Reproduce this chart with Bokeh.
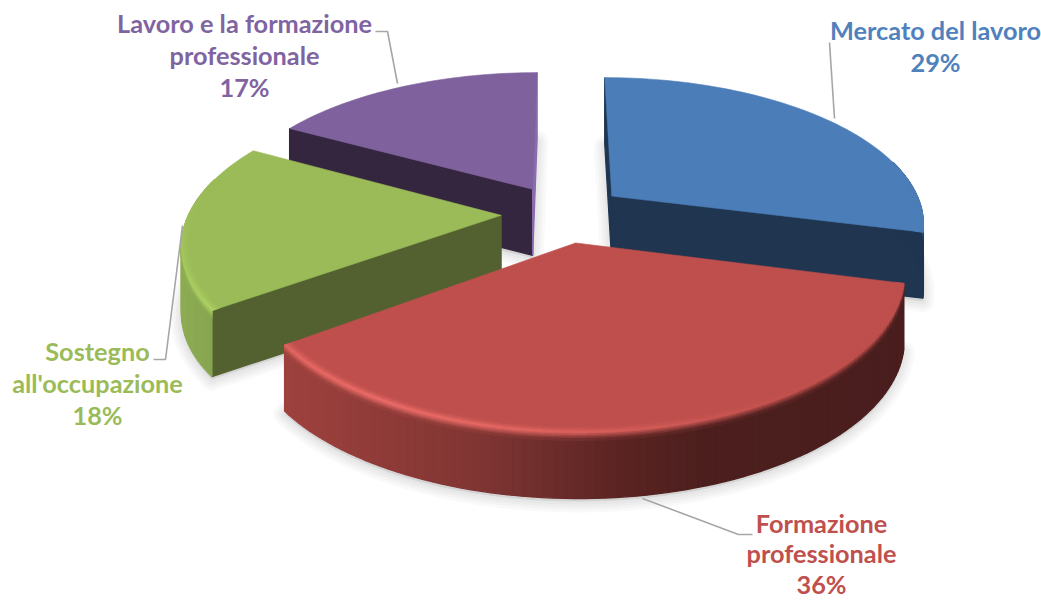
import numpy as np
from bokeh.embed import file_html
from bokeh.models import ColumnDataSource, Range1d
from bokeh.plotting import figure
from bokeh.resources import INLINE
from bokeh.core.properties import value

# ---- data ----
categories = ["Mercato del lavoro", "Formazione professionale",
              "Sostegno all'occupazione", "Lavoro e la formazione professionale"]
shares = [29, 36, 18, 17]
label_lines = [["Mercato del lavoro"], ["Formazione", "professionale"],
               ["Sostegno", "all'occupazione"], ["Lavoro e la formazione", "professionale"]]

# ---- style ----
label_colors = ["#4F81BD", "#C0504D", "#9BBB59", "#8064A2"]
top_colors = ["#4B7DB8", "#BE4F4C", "#9BBA58", "#7F619E"]
rim_colors = ["#5F93D4", "#F2706C", "#B6DE68", "#9778BC"]
wall_stops = [[(0, "#1F3550"), (1100, "#1F3550")],
              [(285, "#9E413E"), (480, "#7F3533"), (620, "#5A2422"), (700, "#4C1F1E"), (900, "#4A1E1E")],
              [(180, "#8DAC53"), (260, "#7E9A49")],
              [(0, "#35263F"), (1100, "#35263F")]]
cut_start_colors = ["#1F3550", None, "#536130", "#35263F"]
cut_end_colors = ["#1F3550", None, None, "#8A6CAE"]
label_pos = [(935, 29), (821, 522), (97, 350), (244, 22)]
line_gaps = [32.0, 30.5, 32.0, 32.0]
leaders = [([829, 834], [42, 118]),
           ([752, 738, 642], [534, 534, 498]),
           ([153, 165, 182], [359, 359, 225]),
           ([375, 387, 397], [31, 31, 83])]

# ---- projection ----
CX, CY = 563.0, 213.0
A, B, K = 312.0, 144.8, 0.1747
DEPTH = 66.0
EXPLODE = 0.2


def hex2rgb(c):
    return np.array([int(c[i:i + 2], 16) for i in (1, 3, 5)], float)


def rgb2hex(v):
    return "#%02X%02X%02X" % tuple(int(round(min(255, max(0, x)))) for x in v)


def mix(a, b, t):
    return rgb2hex(hex2rgb(a) * (1 - t) + hex2rgb(b) * t)


def project(X, Y, z=0.0):
    w = 1 + K * Y
    return CX + A * X / w, CY - B * Y / w + z


def wall_color(stops, x):
    xs = [s[0] for s in stops]
    rgb = np.array([hex2rgb(s[1]) for s in stops])
    return rgb2hex([np.interp(x, xs, rgb[:, i]) for i in range(3)])


total = sum(shares)
starts = np.cumsum([0] + shares[:-1]) / total * 2 * np.pi
ends = np.cumsum(shares) / total * 2 * np.pi

p = figure(width=1041, height=600, output_backend="svg", toolbar_location=None,
           x_range=Range1d(0, 1041), y_range=Range1d(600, 0), min_border=0,
           background_fill_color="white", border_fill_color="white", outline_line_color=None)
p.axis.visible = False
p.grid.visible = False

shapes = []
for i in range(len(shares)):
    mid = (starts[i] + ends[i]) / 2
    ox, oy = EXPLODE * np.sin(mid), EXPLODE * np.cos(mid)
    th = np.linspace(starts[i], ends[i], max(8, int(np.degrees(ends[i] - starts[i]) / 1.5)))
    shapes.append((ox, oy, th))


def ring(ox, oy, th, r=1.0, z=0.0):
    return project(ox + r * np.sin(th), oy + r * np.cos(th), z)


def rim_tone(i, m):
    s = max(0.0, -0.5 * np.sin(m) - 0.85 * np.cos(m)) ** 3
    return mix(top_colors[i], rim_colors[i], s)


# soft shadows under the base of every slice
for i, (ox, oy, th) in enumerate(shapes):
    rx, ry = ring(ox, oy, th, 1.0, DEPTH + 3)
    ax, ay = project(ox, oy, DEPTH + 3)
    xs = list(rx) + [ax]
    ys = list(ry) + [ay]
    for w in (22, 16, 11, 6):
        p.patch(xs, ys, fill_color="#808080", fill_alpha=0.05, line_color="#808080",
                line_alpha=0.05, line_width=w, line_join="round")

# draw back to front
for i in [3, 0, 2, 1]:
    ox, oy, th = shapes[i]
    ax, ay = project(ox, oy)
    qx, qy, qc = [], [], []

    # cut faces
    for ang, col in ((starts[i], cut_start_colors[i]), (ends[i], cut_end_colors[i])):
        if col:
            ex, ey = ring(ox, oy, np.array([ang]))
            qx.append([ax, ex[0], ex[0], ax])
            qy.append([ay, ey[0], ey[0] + DEPTH, ay + DEPTH])
            qc.append(col)

    # outer wall
    segs = [(a, b) for a, b in zip(th[:-1], th[1:]) if np.cos((a + b) / 2) <= 0.25]
    for a, b in segs:
        x0, y0 = ring(ox, oy, np.array([a, b]))
        qx.append([x0[0], x0[1], x0[1], x0[0]])
        qy.append([y0[0], y0[1], y0[1] + DEPTH, y0[0] + DEPTH])
        qc.append(wall_color(wall_stops[i], (x0[0] + x0[1]) / 2))
    p.patches("x", "y", source=ColumnDataSource(dict(x=qx, y=qy, c=qc)),
              fill_color="c", line_color="c", line_width=1.3)

    # bevel on the wall's upper edge
    bevel = [0, 1.5, 3, 4.5, 6, 8]
    qx, qy, qc = [], [], []
    for a, b in segs:
        rim = rim_tone(i, (a + b) / 2)
        x0, y0 = ring(ox, oy, np.array([a, b]))
        wc = wall_color(wall_stops[i], (x0[0] + x0[1]) / 2)
        for k in range(len(bevel) - 1):
            qx.append([x0[0], x0[1], x0[1], x0[0]])
            qy.append([y0[0] + bevel[k], y0[1] + bevel[k], y0[1] + bevel[k + 1], y0[0] + bevel[k + 1]])
            qc.append(mix(rim, wc, (k + 0.5) / (len(bevel) - 1)))
    p.patches("x", "y", source=ColumnDataSource(dict(x=qx, y=qy, c=qc)),
              fill_color="c", line_color="c", line_width=1.0)

    # top face
    rx, ry = ring(ox, oy, th)
    p.patch(list(rx) + [ax], list(ry) + [ay], fill_color=top_colors[i], line_color=top_colors[i], line_width=0.6)

    # inner edge of the bevel, on the top face
    tx, ty, tc = [], [], []
    rs = [0.975, 0.983, 0.99, 0.995, 1.0]
    for a, b in segs:
        rim = rim_tone(i, (a + b) / 2)
        for k in range(len(rs) - 1):
            xa, ya = ring(ox, oy, np.array([a, b]), rs[k])
            xb, yb = ring(ox, oy, np.array([a, b]), rs[k + 1])
            tx.append([xa[0], xa[1], xb[1], xb[0]])
            ty.append([ya[0], ya[1], yb[1], yb[0]])
            tc.append(mix(top_colors[i], rim, (k + 0.5) / (len(rs) - 1)))
    if tx:
        p.patches("x", "y", source=ColumnDataSource(dict(x=tx, y=ty, c=tc)),
                  fill_color="c", line_color="c", line_width=0.8)

# leader lines
for lx, ly in leaders:
    p.line(lx, ly, line_color="#A6A6A6", line_width=1.6)

# labels
for i in range(len(shares)):
    lines = label_lines[i] + [f"{shares[i]}%"]
    x0, y0 = label_pos[i]
    p.text([x0] * len(lines), [y0 + j * line_gaps[i] for j in range(len(lines))], text=lines,
           text_font=value("Lato"), text_font_style="bold", text_font_size="25.3px",
           text_color=label_colors[i], text_align="center", text_baseline="middle")

open("out.html", "w").write(file_html(p, INLINE))
